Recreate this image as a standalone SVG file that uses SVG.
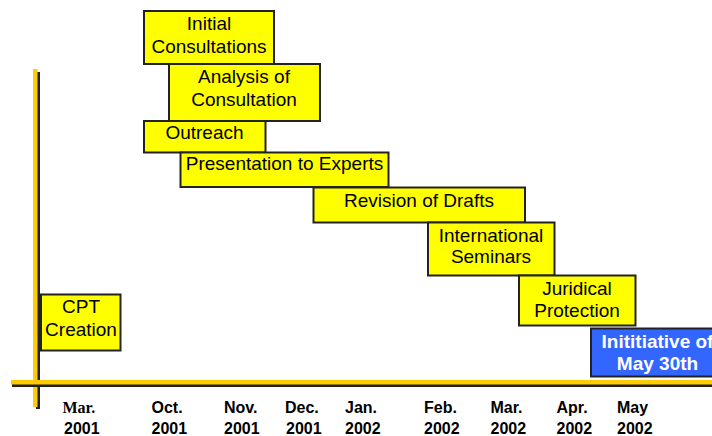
<svg xmlns="http://www.w3.org/2000/svg" width="712" height="436" viewBox="0 0 712 436">
<style>
.box{fill:#FFFF00;stroke:#222;stroke-width:2}
.blue{fill:#3366FF;stroke:#222;stroke-width:2}
.t{font-family:"Liberation Sans",Arial,sans-serif;font-size:19px;fill:#000;text-anchor:middle}
.tw{font-family:"Liberation Sans",Arial,sans-serif;font-size:19px;font-weight:bold;fill:#fff;text-anchor:middle}
.d{font-family:"Liberation Sans",Arial,sans-serif;font-size:16px;font-weight:bold;fill:#000}
.ds{font-family:"Liberation Serif","Times New Roman",serif;font-size:16px;font-weight:bold;fill:#000}
.ax{fill:#FFCC00}
.sh{fill:#222}
</style>
<rect width="712" height="436" fill="#fff"/>
<g id="axes">
<rect class="sh" x="36" y="72" width="4" height="337"/>
<rect class="ax" x="33" y="69" width="4.5" height="338"/>
<rect class="sh" x="12" y="384" width="700" height="3"/>
<rect class="ax" x="11" y="380" width="701" height="4.5"/>
</g>
<g id="cpt">
<rect class="box" x="41" y="294.5" width="79.5" height="56"/>
<text class="t" x="81" y="313">CPT</text>
<text class="t" x="81" y="336">Creation</text>
</g>
<g id="initial">
<rect class="box" x="144" y="11" width="130" height="53"/>
<text class="t" x="209" y="30">Initial</text>
<text class="t" x="209" y="53">Consultations</text>
</g>
<g id="analysis">
<rect class="box" x="169" y="64" width="151" height="57"/>
<text class="t" x="244" y="83">Analysis of</text>
<text class="t" x="244" y="106">Consultation</text>
</g>
<g id="outreach">
<rect class="box" x="144" y="121" width="121.5" height="31.5"/>
<text class="t" x="204.5" y="139">Outreach</text>
</g>
<g id="presentation">
<rect class="box" x="180.5" y="152.5" width="208" height="34.5"/>
<text class="t" x="284.5" y="170">Presentation to Experts</text>
</g>
<g id="revision">
<rect class="box" x="313.5" y="187.5" width="211.5" height="35"/>
<text class="t" x="419" y="206.5">Revision of Drafts</text>
</g>
<g id="seminars">
<rect class="box" x="428" y="222.5" width="126.5" height="53"/>
<text class="t" x="491" y="242">International</text>
<text class="t" x="491" y="263">Seminars</text>
</g>
<g id="juridical">
<rect class="box" x="519" y="275.5" width="116.5" height="50"/>
<text class="t" x="577" y="295">Juridical</text>
<text class="t" x="577" y="316.5">Protection</text>
</g>
<g id="initiative">
<rect class="blue" x="591" y="328.5" width="130" height="48"/>
<text class="tw" x="657.5" y="347.5">Inititiative of</text>
<text class="tw" x="657.5" y="370">May 30th</text>
</g>
<g id="dates">
<text class="ds" x="62.5" y="413">Mar.</text>
<text class="d" x="64" y="434">2001</text>
<text class="d" x="151.5" y="413">Oct.</text>
<text class="d" x="151.5" y="434">2001</text>
<text class="d" x="224" y="413">Nov.</text>
<text class="d" x="224" y="434">2001</text>
<text class="d" x="285" y="413">Dec.</text>
<text class="d" x="286" y="434">2001</text>
<text class="d" x="345" y="413">Jan.</text>
<text class="d" x="345" y="434">2002</text>
<text class="d" x="424" y="413">Feb.</text>
<text class="d" x="424" y="434">2002</text>
<text class="d" x="490.5" y="413">Mar.</text>
<text class="d" x="490.5" y="434">2002</text>
<text class="d" x="556.5" y="413">Apr.</text>
<text class="d" x="556.5" y="434">2002</text>
<text class="d" x="617" y="413">May</text>
<text class="d" x="617" y="434">2002</text>
</g>
</svg>
